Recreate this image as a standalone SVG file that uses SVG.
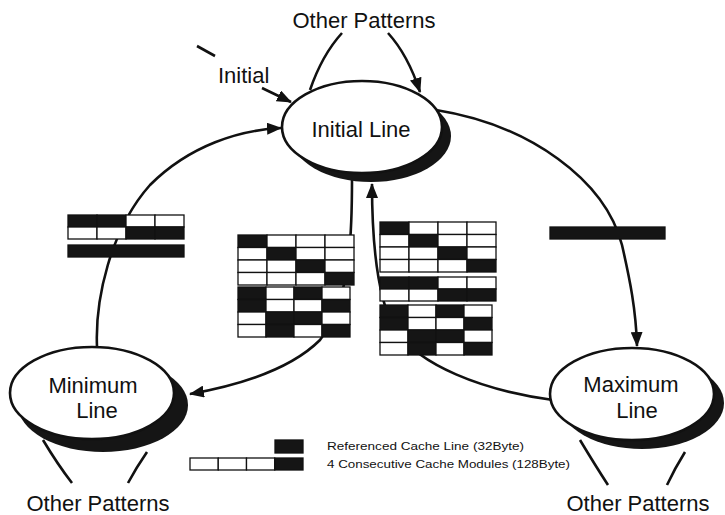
<svg xmlns="http://www.w3.org/2000/svg" xmlns:xlink="http://www.w3.org/1999/xlink" width="725" height="515" viewBox="0 0 725 515">
<style>
.t{font-family:"Liberation Sans",Arial,sans-serif;font-size:22px;fill:#111}
.lg{font-family:"Liberation Sans",Arial,sans-serif;font-size:10.5px;fill:#111}
.ell{fill:#fff;stroke:#111;stroke-width:2.6}
.sh{fill:#151515}
.e{fill:none;stroke:#111;stroke-width:2.6}
.w{fill:#fff;stroke:#111;stroke-width:1.3}
.d{fill:#151515;stroke:#111;stroke-width:1.3}
</style>
<defs>
<marker id="ah" markerUnits="userSpaceOnUse" markerWidth="16" markerHeight="12" refX="14" refY="6" orient="auto">
<path d="M0,0 L15,6 L0,12 Z" fill="#111"/>
</marker>
<g id="gDiag">
<rect class="d" x="0" y="0" width="29" height="12.5"/><rect class="w" x="29" y="0" width="29" height="12.5"/><rect class="w" x="58" y="0" width="29" height="12.5"/><rect class="w" x="87" y="0" width="29" height="12.5"/>
<rect class="w" x="0" y="12.5" width="29" height="12.5"/><rect class="d" x="29" y="12.5" width="29" height="12.5"/><rect class="w" x="58" y="12.5" width="29" height="12.5"/><rect class="w" x="87" y="12.5" width="29" height="12.5"/>
<rect class="w" x="0" y="25" width="29" height="12.5"/><rect class="w" x="29" y="25" width="29" height="12.5"/><rect class="d" x="58" y="25" width="29" height="12.5"/><rect class="w" x="87" y="25" width="29" height="12.5"/>
<rect class="w" x="0" y="37.5" width="29" height="12.5"/><rect class="w" x="29" y="37.5" width="29" height="12.5"/><rect class="w" x="58" y="37.5" width="29" height="12.5"/><rect class="d" x="87" y="37.5" width="29" height="12.5"/>
</g>
<g id="gMix">
<rect class="d" x="0" y="0" width="28" height="12.5"/><rect class="w" x="28" y="0" width="28" height="12.5"/><rect class="d" x="56" y="0" width="28" height="12.5"/><rect class="w" x="84" y="0" width="28" height="12.5"/>
<rect class="d" x="0" y="12.5" width="28" height="12.5"/><rect class="w" x="28" y="12.5" width="28" height="12.5"/><rect class="w" x="56" y="12.5" width="28" height="12.5"/><rect class="d" x="84" y="12.5" width="28" height="12.5"/>
<rect class="w" x="0" y="25" width="28" height="12.5"/><rect class="d" x="28" y="25" width="28" height="12.5"/><rect class="d" x="56" y="25" width="28" height="12.5"/><rect class="w" x="84" y="25" width="28" height="12.5"/>
<rect class="w" x="0" y="37.5" width="28" height="12.5"/><rect class="d" x="28" y="37.5" width="28" height="12.5"/><rect class="w" x="56" y="37.5" width="28" height="12.5"/><rect class="d" x="84" y="37.5" width="28" height="12.5"/>
</g>
<g id="gPair">
<rect class="d" x="0" y="0" width="29" height="12"/><rect class="d" x="29" y="0" width="29" height="12"/><rect class="w" x="58" y="0" width="29" height="12"/><rect class="w" x="87" y="0" width="29" height="12"/>
<rect class="w" x="0" y="12" width="29" height="12"/><rect class="w" x="29" y="12" width="29" height="12"/><rect class="d" x="58" y="12" width="29" height="12"/><rect class="d" x="87" y="12" width="29" height="12"/>
</g>
</defs>
<rect width="725" height="515" fill="#fff"/>

<g id="connectors">
<path class="e" d="M436,110 C530,125 605,180 622,245 C630,280 636,310 637,346" marker-end="url(#ah)"/>
<path class="e" d="M553,400 C480,390 420,365 395,330 C378,300 372,250 372,184" marker-end="url(#ah)"/>
<path class="e" d="M352,180 C352,240 350,300 320,340 C290,370 240,385 190,394" marker-end="url(#ah)"/>
<path class="e" d="M97,347 C95,300 110,230 150,185 C190,145 240,130 281,128" marker-end="url(#ah)"/>
<path class="e" d="M310,90 Q322,55 342,33"/>
<path class="e" d="M388,33 Q408,55 420,92" marker-end="url(#ah)"/>
<path class="e" d="M262,88 L291,102" marker-end="url(#ah)"/>
<path class="e" d="M197,46 L215,56"/>
<path class="e" d="M43,440 Q58,465 72,483"/>
<path class="e" d="M147,452 Q136,468 128,483"/>
<path class="e" d="M580,440 Q595,465 608,485"/>
<path class="e" d="M685,452 Q675,468 667,485"/>
</g>

<g id="grids">
<use xlink:href="#gDiag" href="#gDiag" x="238" y="235"/>
<use xlink:href="#gMix" href="#gMix" x="238" y="287"/>
<use xlink:href="#gDiag" href="#gDiag" x="380" y="222"/>
<use xlink:href="#gPair" href="#gPair" x="380" y="277"/>
<use xlink:href="#gMix" href="#gMix" x="380" y="305"/>
<use xlink:href="#gPair" href="#gPair" x="68" y="215"/>
<rect class="d" x="68" y="245" width="116" height="12"/>
<rect class="d" x="550" y="227" width="115" height="12"/>
</g>

<g id="initial-line">
<ellipse class="sh" cx="371" cy="136" rx="80" ry="46"/>
<ellipse class="ell" cx="362" cy="127" rx="80" ry="46"/>
<text class="t" x="361" y="137" text-anchor="middle">Initial Line</text>
</g>

<g id="minimum-line">
<ellipse class="sh" cx="103" cy="405" rx="85" ry="47"/>
<ellipse class="ell" cx="92" cy="393" rx="82" ry="46"/>
<text class="t" x="93" y="393" text-anchor="middle">Minimum</text>
<text class="t" x="97" y="418" text-anchor="middle">Line</text>
</g>

<g id="maximum-line">
<ellipse class="sh" cx="642" cy="403" rx="82" ry="46"/>
<ellipse class="ell" cx="632" cy="394" rx="82" ry="46"/>
<text class="t" x="631" y="392" text-anchor="middle">Maximum</text>
<text class="t" x="637" y="418" text-anchor="middle">Line</text>
</g>

<g id="labels">
<text class="t" x="364" y="28" text-anchor="middle">Other Patterns</text>
<text class="t" x="218" y="83">Initial</text>
<text class="t" x="98" y="511" text-anchor="middle">Other Patterns</text>
<text class="t" x="638" y="511" text-anchor="middle">Other Patterns</text>
</g>

<g id="legend">
<rect class="d" x="275" y="440" width="28" height="13"/>
<rect class="w" x="190" y="458" width="28.25" height="12"/>
<rect class="w" x="218.25" y="458" width="28.25" height="12"/>
<rect class="w" x="246.5" y="458" width="28.25" height="12"/>
<rect class="d" x="274.75" y="458" width="28.25" height="12"/>
<text class="lg" x="327" y="450" textLength="197" lengthAdjust="spacingAndGlyphs">Referenced Cache Line (32Byte)</text>
<text class="lg" x="327" y="468" textLength="243" lengthAdjust="spacingAndGlyphs">4 Consecutive Cache Modules (128Byte)</text>
</g>
</svg>
